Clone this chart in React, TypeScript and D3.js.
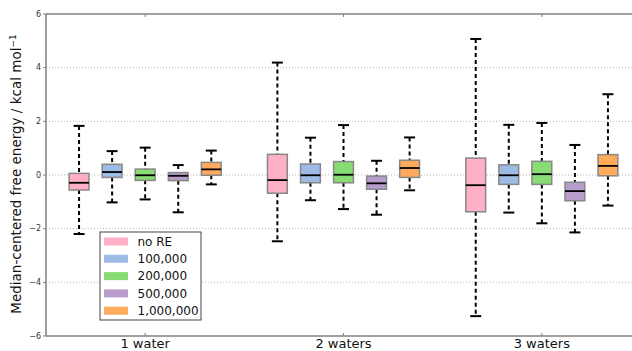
import {default as React} from "react";
import * as d3 from "d3";

// group labels along the x axis
const groups = ["1 water", "2 waters", "3 waters"];
const series = ["no RE", "100,000", "200,000", "500,000", "1,000,000"];
const colors = ["#ffb0c4", "#9dbbe4", "#88dc74", "#b89dcc", "#ffaa5c"];

// [whisker low, q1, median, q3, whisker high] per series, per group
const noRE = [
    [-2.2, -0.56, -0.29, 0.06, 1.83],
    [-2.47, -0.68, -0.19, 0.77, 4.19],
    [-5.26, -1.37, -0.38, 0.63, 5.07],
];
const re100k = [
    [-1.02, -0.09, 0.11, 0.4, 0.89],
    [-0.94, -0.29, -0.01, 0.41, 1.39],
    [-1.4, -0.35, -0.01, 0.38, 1.87],
];
const re200k = [
    [-0.91, -0.2, -0.01, 0.22, 1.02],
    [-1.27, -0.29, 0.01, 0.5, 1.86],
    [-1.8, -0.35, 0.03, 0.51, 1.94],
];
const re500k = [
    [-1.39, -0.21, -0.03, 0.09, 0.37],
    [-1.48, -0.53, -0.31, -0.04, 0.53],
    [-2.14, -0.96, -0.6, -0.27, 1.12],
];
const re1m = [
    [-0.35, -0.01, 0.21, 0.47, 0.91],
    [-0.57, -0.09, 0.26, 0.55, 1.4],
    [-1.14, -0.03, 0.34, 0.76, 3.01],
];
const allSeries = [noRE, re100k, re200k, re500k, re1m];

const yTicks = [-6, -4, -2, 0, 2, 4, 6];

const width = 632;
const height = 351;
const margin = {left: 46, top: 14, bottom: 15, right: -9};

export default function App() {
    const x = d3.scaleLinear()
        .domain([0.5, 3.5])
        .range([margin.left, width - margin.right]);
    const y = d3.scaleLinear()
        .domain([-6, 6])
        .range([height - margin.bottom, margin.top]);

    const step = 1 / 6;
    const boxW = x(0.1) - x(0);
    const capW = 11;

    return (
        <svg width={width} height={height}
             style={{position: "fixed", left: 0, top: 0, background: "white"}}
             fontFamily="DejaVu Sans">
            {/* grid */}
            {yTicks.filter(t => t > -6 && t < 6).map(t =>
                <line key={"g" + t} x1={margin.left} x2={width} y1={y(t)} y2={y(t)}
                      stroke="#b8b8b8" strokeWidth={1} strokeDasharray="1,2"/>
            )}
            {/* boxes */}
            {allSeries.map((s, si) => s.map((d, gi) => {
                const cx = x(gi + 1 + (si - 2) * step);
                const [lo, q1, med, q3, hi] = d;
                return (
                    <g key={si + "-" + gi}>
                        <line x1={cx} x2={cx} y1={y(hi)} y2={y(q3)} stroke="black"
                              strokeWidth={2} strokeDasharray="4,3"/>
                        <line x1={cx} x2={cx} y1={y(q1)} y2={y(lo)} stroke="black"
                              strokeWidth={2} strokeDasharray="4,3"/>
                        <line x1={cx - capW / 2} x2={cx + capW / 2} y1={y(hi)} y2={y(hi)}
                              stroke="black" strokeWidth={2}/>
                        <line x1={cx - capW / 2} x2={cx + capW / 2} y1={y(lo)} y2={y(lo)}
                              stroke="black" strokeWidth={2}/>
                        <rect x={cx - boxW / 2} width={boxW} y={y(q3)} height={y(q1) - y(q3)}
                              fill={colors[si]} stroke="#888" strokeWidth={1.5}/>
                        <line x1={cx - boxW / 2} x2={cx + boxW / 2} y1={y(med)} y2={y(med)}
                              stroke="black" strokeWidth={1.8}/>
                    </g>
                );
            }))}
            {/* frame */}
            <line x1={margin.left} x2={width} y1={y(6)} y2={y(6)} stroke="#808080" strokeWidth={1.5}/>
            <line x1={margin.left} x2={width} y1={y(-6)} y2={y(-6)} stroke="#808080" strokeWidth={1.5}/>
            <line x1={margin.left} x2={margin.left} y1={y(6)} y2={y(-6)} stroke="#808080" strokeWidth={1.5}/>
            {/* y ticks */}
            {yTicks.map(t =>
                <g key={"t" + t}>
                    <line x1={margin.left - 3} x2={margin.left} y1={y(t)} y2={y(t)} stroke="#808080"/>
                    <text x={margin.left - 5} y={y(t)} dy="0.35em" textAnchor="end"
                          fontSize={8} fill="#333">{t < 0 ? "\u2212" + Math.abs(t) : t}</text>
                </g>
            )}
            {/* x ticks */}
            {groups.map((g, gi) =>
                <g key={g}>
                    <line x1={x(gi + 1)} x2={x(gi + 1)} y1={y(6)} y2={y(6) + 3} stroke="#808080"/>
                    <line x1={x(gi + 1)} x2={x(gi + 1)} y1={y(-6)} y2={y(-6) - 3} stroke="#808080"/>
                    <text x={x(gi + 1)} y={348} textAnchor="middle" fontSize={13} fill="#111">{g}</text>
                </g>
            )}
            {/* y label */}
            <text transform={`translate(21,${y(0) - 1}) rotate(-90)`} textAnchor="middle"
                  fontSize={13.5} fill="#111">
                Median-centered free energy / kcal mol
                <tspan dy={-5} fontSize={9}>{"\u22121"}</tspan>
            </text>
            {/* legend */}
            <g transform="translate(100,232)">
                <rect x={0} y={0} width={101} height={88} fill="white" stroke="#444" strokeWidth={1}/>
                {series.map((s, i) =>
                    <g key={s} transform={`translate(0,${9.5 + i * 17.3})`}>
                        <rect x={4} y={-4} width={24} height={8} fill={colors[i]}/>
                        <text x={37.5} y={0} dy="0.35em" fontSize={12} fill="#111">{s}</text>
                    </g>
                )}
            </g>
        </svg>
    );
}
